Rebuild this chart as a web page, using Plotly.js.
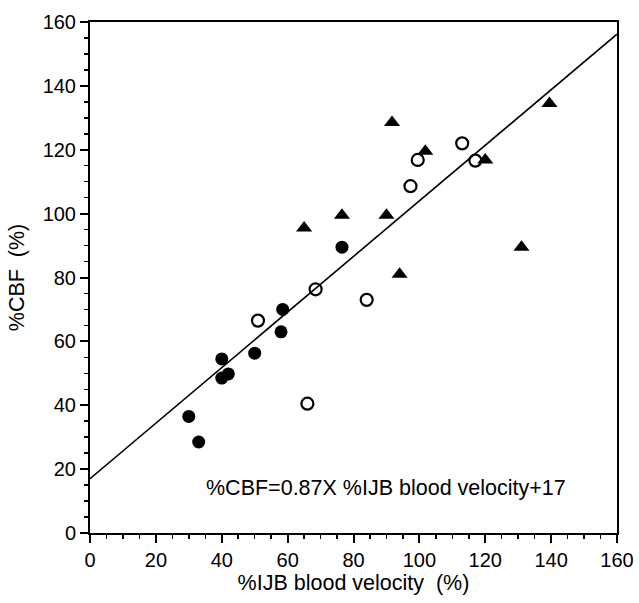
<!DOCTYPE html>
<html>
<head>
<meta charset="utf-8">
<script src="https://cdn.plot.ly/plotly-3.0.1.min.js"></script>
<style>html,body{margin:0;padding:0;background:#fff;}#chart{width:639px;height:603px;}</style>
</head>
<body>
<div id="chart"></div>
<script>
// Filled circles
const filledX = [30, 33, 40, 40, 42, 50, 58.5, 58, 76.5];
const filledY = [36.5, 28.5, 54.5, 48.5, 49.8, 56.3, 70, 63, 89.5];
// Open circles
const openX = [51, 68.5, 66, 84, 99.5, 97.3, 113, 117];
const openY = [66.5, 76.3, 40.5, 73, 116.8, 108.6, 122, 116.6];
// Triangles
const triX = [65, 76.5, 90, 91.7, 94, 101.8, 120, 131, 139.5];
const triY = [95.5, 99.5, 99.5, 128.5, 81, 119.5, 116.8, 89.5, 134.5];
// Regression line
const slope = 0.87, intercept = 17;
const lineX = [0, 160];
const lineY = lineX.map(x => slope * x + intercept);
const tickVals = [0, 20, 40, 60, 80, 100, 120, 140, 160];
const tickText = ['0', '20', '40', '60', '80', '100', '120', '140', '160'];

const fontFam = '"Liberation Sans", Arial, sans-serif';

const traces = [
  {x: lineX, y: lineY, mode: 'lines', line: {color: '#000', width: 1.6}, hoverinfo: 'skip', cliponaxis: true},
  {x: filledX, y: filledY, mode: 'markers', marker: {symbol: 'circle', size: 13, color: '#000'}},
  {x: openX, y: openY, mode: 'markers', marker: {symbol: 'circle-open', size: 12, color: '#000', line: {width: 2.2, color: '#000'}}},
  {x: triX, y: triY, mode: 'markers', marker: {symbol: 'triangle-up', size: 14, color: '#000'}}
];

const axisCommon = {
  range: [0, 160], showgrid: false, zeroline: false,
  showline: true, linecolor: '#000', linewidth: 2, mirror: true,
  ticks: 'outside', ticklen: 8, tickwidth: 2, tickcolor: '#000',
  tickvals: tickVals, ticktext: tickText,
  tickfont: {family: fontFam, size: 20, color: '#000'},
  minor: {dtick: 5, ticks: 'outside', ticklen: 4, tickwidth: 1.5, tickcolor: '#000', showgrid: false},
  fixedrange: true
};

const layout = {
  width: 639, height: 603,
  margin: {l: 90, r: 22, t: 22, b: 70},
  paper_bgcolor: '#fff', plot_bgcolor: '#fff',
  showlegend: false,
  font: {family: fontFam, color: '#000'},
  xaxis: Object.assign({}, axisCommon, {
    title: {text: '%IJB blood velocity  (%)', font: {family: fontFam, size: 21.5, color: '#000'}, standoff: 5}
  }),
  yaxis: Object.assign({}, axisCommon, {
    title: {text: '%CBF  (%)', font: {family: fontFam, size: 21.5, color: '#000'}, standoff: 12}
  }),
  annotations: [{
    x: 34.5, y: 14, xref: 'x', yref: 'y', xanchor: 'left', yanchor: 'middle',
    text: '%CBF=0.87X %IJB blood velocity+17', showarrow: false,
    font: {family: fontFam, size: 21.5, color: '#000'}
  }]
};

Plotly.newPlot('chart', traces, layout, {displayModeBar: false, staticPlot: true});
</script>
</body>
</html>
